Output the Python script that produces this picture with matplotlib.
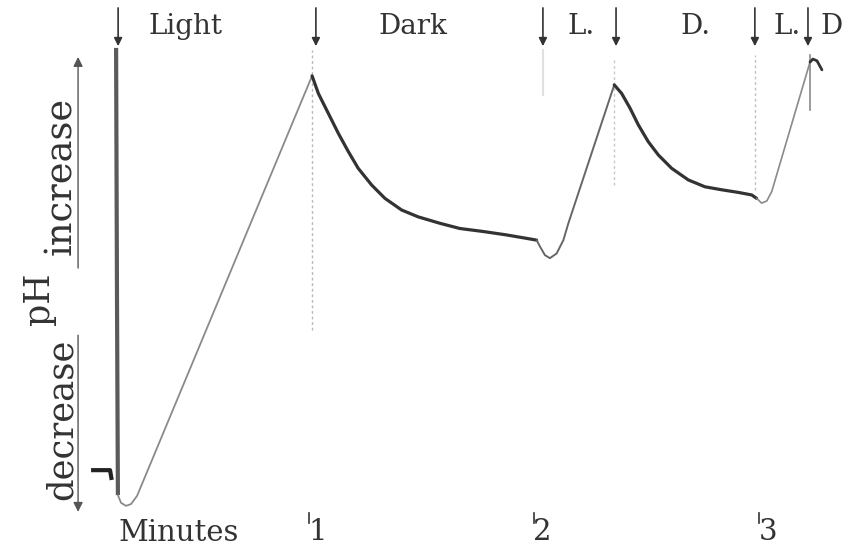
import matplotlib
matplotlib.use("Agg")
import matplotlib.pyplot as plt

# time in minutes, pH change in relative units (bottom of trace = 0, first peak = 100)
t_drop = [0.144, 0.148, 0.152]
ph_drop = [106.3, 47.7, 2.3]

t_light1 = [0.152, 0.166, 0.188, 0.210, 0.237, 1.015]
ph_light1 = [2.3, 0.5, -0.2, 0.2, 2.1, 99.8]

t_dark1 = [1.015, 1.043, 1.087, 1.132, 1.176, 1.220, 1.280, 1.339, 1.413,
           1.487, 1.584, 1.672, 1.776, 1.880, 1.969, 2.013]
ph_dark1 = [99.8, 95.7, 91.1, 86.4, 82.2, 78.3, 74.4, 71.3, 68.6,
            67.0, 65.5, 64.3, 63.6, 62.8, 62.0, 61.6]

t_light2 = [2.013, 2.028, 2.050, 2.072, 2.102, 2.132, 2.154, 2.358]
ph_light2 = [61.6, 60.1, 58.1, 57.4, 58.5, 61.6, 65.5, 97.7]

t_dark2 = [2.358, 2.391, 2.428, 2.465, 2.509, 2.554, 2.613, 2.687, 2.761,
           2.836, 2.909, 2.969, 2.991]
ph_dark2 = [97.7, 95.7, 92.3, 88.4, 84.5, 81.4, 78.3, 75.6, 74.0,
            73.3, 72.7, 72.1, 71.3]

t_light3 = [2.991, 3.013, 3.036, 3.058, 3.228]
ph_light3 = [71.3, 70.2, 70.7, 72.9, 103.0]

t_dark3 = [3.228, 3.241, 3.259, 3.281]
ph_dark3 = [103.0, 103.7, 103.3, 101.2]

# moments the light was switched, with the label written after each arrow
switch_times = [0.153, 1.032, 2.041, 2.366, 2.983, 3.219]
switch_labels = ["Light", "Dark", "L.", "D.", "L.", "D"]
label_x = [0.286, 1.308, 2.152, 2.650, 3.064, 3.273]

minute_ticks = [1, 2, 3]

fig = plt.figure(figsize=(8.55, 5.47), dpi=100)
ax = fig.add_axes([0, 0, 1, 1])
ax.set_xlim(-0.372, 3.428)
ax.set_ylim(-9.77, 117.44)
ax.axis("off")

ink = "#333333"
pale = "#8a8a8a"
font = "DejaVu Serif"

# faint guide lines under the switch arrows
ax.plot([1.015, 1.015], [40.7, 105.8], color="#b8b8b8", lw=1.0, ls=(0, (2, 2)))
ax.plot([2.041, 2.041], [95.3, 105.8], color="#e0e0e0", lw=1.5)
ax.plot([2.357, 2.357], [74.4, 103.5], color="#c8c8c8", lw=1.0, ls=(0, (2, 2)))
ax.plot([2.983, 2.983], [73.3, 104.7], color="#c0c0c0", lw=1.0, ls=(0, (2, 2)))
ax.plot([3.228, 3.228], [91.9, 104.7], color="#8a8a8a", lw=1.2)

# the trace
line_kw = dict(solid_joinstyle="round", solid_capstyle="round")
ax.plot(t_drop, ph_drop, color="#5a5a5a", lw=3.0, solid_capstyle="butt")
ax.plot(t_light1, ph_light1, color=pale, lw=1.3, **line_kw)
ax.plot(t_dark1, ph_dark1, color=ink, lw=2.3, **line_kw)
ax.plot(t_light2, ph_light2, color="#666666", lw=1.4, **line_kw)
ax.plot(t_dark2, ph_dark2, color=ink, lw=2.3, **line_kw)
ax.plot(t_light3, ph_light3, color=pale, lw=1.2, **line_kw)
ax.plot(t_dark3, ph_dark3, color=ink, lw=2.0, **line_kw)

# small mark at the start of the record
ax.plot([0.042, 0.117, 0.123], [8.1, 8.1, 6.3], color="#222222", lw=3.0)

# switch arrows and their labels
for t, lab, lx in zip(switch_times, switch_labels, label_x):
    ax.annotate("", xy=(t, 106.7), xytext=(t, 115.6),
                arrowprops=dict(arrowstyle="-|>", color=ink, lw=1.2,
                                mutation_scale=12, shrinkA=0, shrinkB=0))
    ax.text(lx, 109.6, lab, fontsize=20, family=font, color=ink, va="baseline", ha="left")

# pH axis arrows and words
ax.annotate("", xy=(-0.025, 104.2), xytext=(-0.025, 55.1),
            arrowprops=dict(arrowstyle="-|>", color="#555555", lw=1.0,
                            mutation_scale=14, shrinkA=0, shrinkB=0))
ax.annotate("", xy=(-0.025, -1.6), xytext=(-0.025, 39.5),
            arrowprops=dict(arrowstyle="-|>", color="#555555", lw=1.0,
                            mutation_scale=14, shrinkA=0, shrinkB=0))
ax.text(-0.102, 76.5, "increase", rotation=90, fontsize=26.5, family=font, color=ink,
        ha="center", va="center")
ax.text(-0.096, 20.0, "decrease", rotation=90, fontsize=25.5, family=font, color=ink,
        ha="center", va="center")
ax.text(-0.197, 48.0, "pH", rotation=90, fontsize=25, family=font, color=ink,
        ha="center", va="center")

# minute scale
ax.text(0.155, -8.4, "Minutes", fontsize=21, family=font, color=ink, va="baseline", ha="left")
for m in minute_ticks:
    ax.plot([m, m], [-1.9, -4.2], color=ink, lw=1.2)
    ax.text(m + 0.04, -8.2, str(m), fontsize=21, family=font, color=ink,
            va="baseline", ha="center")

fig.savefig("out.png", dpi=100, facecolor="white")
